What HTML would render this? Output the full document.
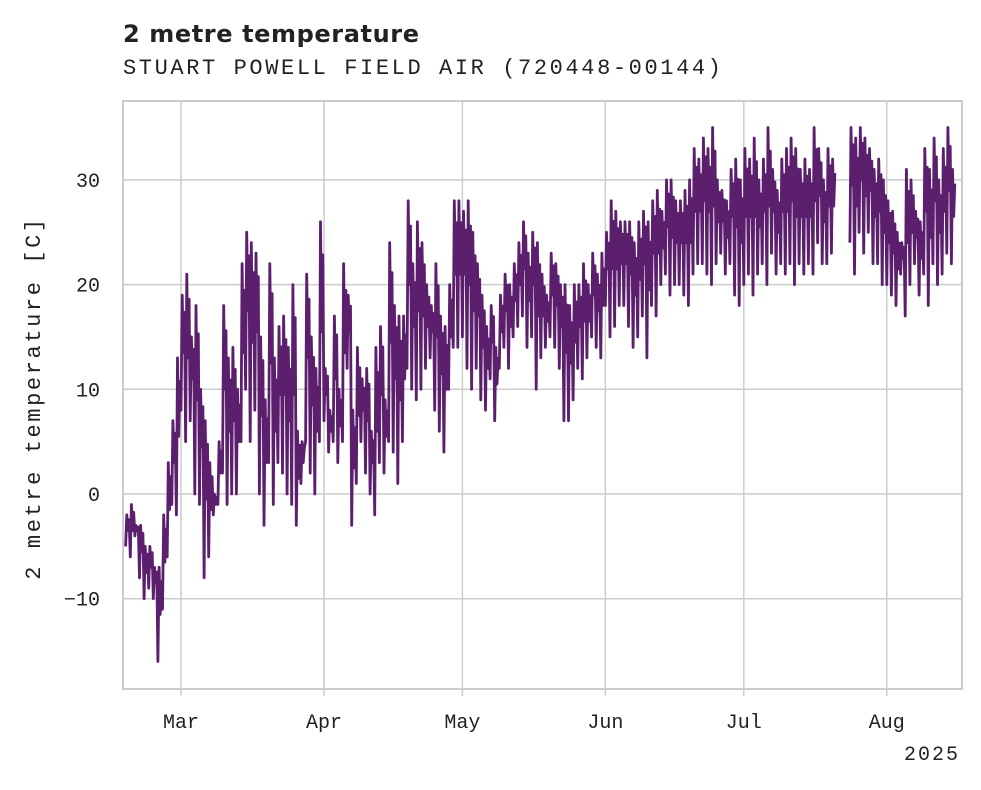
<!DOCTYPE html>
<html><head><meta charset="utf-8"><style>
body{margin:0;background:#fff;width:981px;height:785px;overflow:hidden}
svg text{fill:#222}
</style></head><body>
<svg width="981" height="785" xmlns="http://www.w3.org/2000/svg">
<text x="123" y="42" font-family="DejaVu Sans, Liberation Sans, sans-serif" font-weight="bold" font-size="24" letter-spacing="0.6">2 metre temperature</text>
<text x="123" y="74" font-family="Liberation Mono, DejaVu Sans Mono, monospace" font-size="22" letter-spacing="2.6">STUART POWELL FIELD AIR (720448-00144)</text>
<g id="grid"></g>
<g id="series"></g>
<rect x="123" y="101" width="839" height="588" fill="none" stroke="#ccc" stroke-width="2"/>
<g id="axes" font-family="Liberation Mono, DejaVu Sans Mono, monospace" font-size="20"></g>
<text transform="translate(40,398) rotate(-90)" text-anchor="middle" font-family="Liberation Mono, DejaVu Sans Mono, monospace" font-size="22" letter-spacing="2.6">2 metre temperature [C]</text>
<text x="960" y="760" text-anchor="end" font-family="Liberation Mono, DejaVu Sans Mono, monospace" font-size="20" letter-spacing="2">2025</text>
</svg>
<script>
const yTicks=[-10,0,10,20,30];
const monthLabels=["Mar","Apr","May","Jun","Jul","Aug"];
const monthDays=[12,43,73,104,134,165];
const lows=[-5,-6,-4,-8,-10,-9,-10,-16,-11,-6,-1,-2,
8,5,7,0,-1,-8,-6,-2,-1,2,
-1,0,0,5,10,5,8,0,-3,3,
-1,3,2,0,-1,-3,1,5,2,0,5,
7,4,5,3,5,12,-3,1,5,2,
0,-2,3,2,5,4,1,5,12,10,
9,10,12,13,8,6,4,10,14,14,
15,12,10,12,9,8,11,7,12,14,
12,15,16,17,14,15,10,13,14,15,
14,12,7,7,9,12,11,13,15,14,13,
18,15,16,18,18,16,14,15,17,13,
18,17,20,21,19,20,20,19,18,21,
22,22,21,20,22,23,21,22,19,18,
20,21,19,21,22,20,23,21,22,21,
22,20,22,21,22,21,24,22,22,23,
null,null,null,
24,21,25,23,25,22,22,20,
20,19,18,21,17,20,22,19,21,18,22,20,21,23,22];
const highs=[-2,-1,-3,-3,-5,-5,-7,-7,-2,3,7,13,
19,21,15,18,10,7,3,0,5,18,
13,14,10,22,25,24,23,15,9,22,
13,16,17,14,20,6,5,21,15,12,26,
12,8,17,10,22,19,8,14,11,12,
6,14,16,9,24,18,17,17,28,22,
26,24,20,18,22,17,16,20,28,28,
27,28,25,22,19,16,18,14,19,21,
20,22,24,26,23,25,24,21,19,23,
22,20,20,18,20,20,22,20,23,21,23,
25,28,27,26,26,26,24,26,27,26,
28,29,27,30,30,28,28,29,30,33,
32,34,33,35,30,29,28,31,32,30,
33,32,34,30,32,35,31,29,32,33,
34,33,31,32,31,35,33,30,33,32,
null,null,null,
35,34,35,34,33,31,32,30,
28,27,25,24,31,30,27,26,33,31,34,30,33,35,31];
const NS="http://www.w3.org/2000/svg";
function xs(d){return 181+(d-12)*4.613;}
function ys(v){return 494-v*10.47;}
const grid=document.getElementById('grid'),axes=document.getElementById('axes'),ser=document.getElementById('series');
yTicks.forEach(t=>{
 const l=document.createElementNS(NS,'line');
 
 
 l.setAttribute('x1',123);l.setAttribute('x2',962);l.setAttribute('y1',ys(t));l.setAttribute('y2',ys(t));
 l.setAttribute('stroke','#ccc');l.setAttribute('stroke-width','1.5');grid.appendChild(l);
 const tx=document.createElementNS(NS,'text');
 
 
 tx.setAttribute('x',100);tx.setAttribute('y',ys(t)+7);tx.setAttribute('text-anchor','end');
 tx.textContent=t<0?'\u2212'+Math.abs(t):String(t);axes.appendChild(tx);
});
monthDays.forEach((d,i)=>{
 const l=document.createElementNS(NS,'line');
 
 
 l.setAttribute('x1',xs(d));l.setAttribute('x2',xs(d));l.setAttribute('y1',101);l.setAttribute('y2',689);
 l.setAttribute('stroke','#ccc');l.setAttribute('stroke-width','1.5');grid.appendChild(l);
 const tk=document.createElementNS(NS,'line');
 
 
 tk.setAttribute('x1',xs(d));tk.setAttribute('x2',xs(d));tk.setAttribute('y1',689);tk.setAttribute('y2',696);
 tk.setAttribute('stroke','#ccc');tk.setAttribute('stroke-width','1.5');grid.appendChild(tk);
 const tx=document.createElementNS(NS,'text');
 
 
 tx.setAttribute('x',xs(d));tx.setAttribute('y',728);tx.setAttribute('text-anchor','middle');
 tx.textContent=monthLabels[i];axes.appendChild(tx);
});
let segs=[],cur=[];
for(let d=0;d<lows.length;d++){
 if(lows[d]==null){if(cur.length)segs.push(cur);cur=[];continue;}
 const mid=(lows[d]+highs[d])/2;
 cur.push([xs(d),ys(lows[d])]);
 cur.push([xs(d+0.25),ys(highs[d])]);
 cur.push([xs(d+0.5),ys(mid)]);
 cur.push([xs(d+0.75),ys(highs[d]-(highs[d]-lows[d])*0.15)]);
}
if(cur.length)segs.push(cur);
segs.forEach(s=>{
 const p=document.createElementNS(NS,'polyline');
 
 
 p.setAttribute('points',s.map(q=>q[0].toFixed(1)+','+q[1].toFixed(1)).join(' '));
 p.setAttribute('fill','none');p.setAttribute('stroke','#5b1f6e');p.setAttribute('stroke-width','2.8');p.setAttribute('stroke-linejoin','round');
 ser.appendChild(p);
});
</script>
</body></html>
